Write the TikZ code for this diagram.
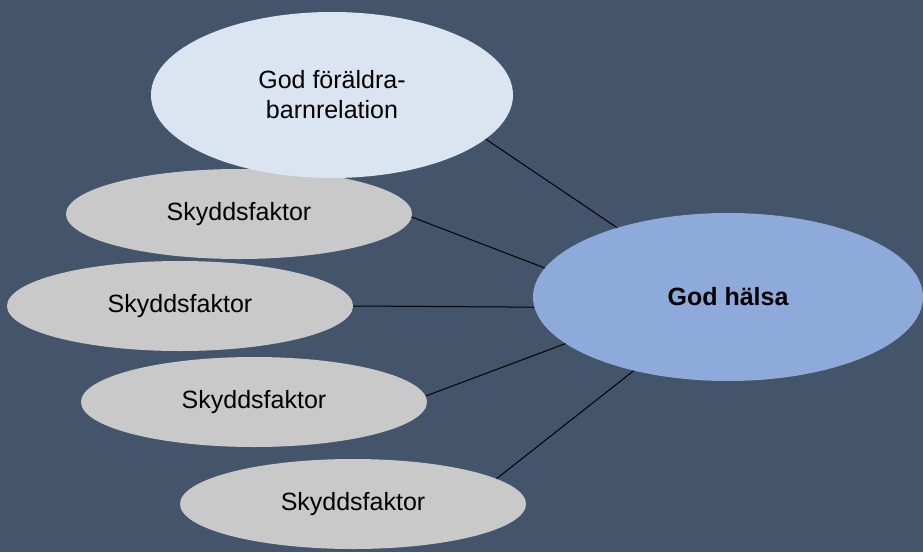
\documentclass[tikz,border=0pt]{standalone}
\usepackage{fontspec}
\setmainfont{Liberation Sans}
\usetikzlibrary{shapes.geometric}
\definecolor{slate}{HTML}{44546A}
\definecolor{parentblue}{HTML}{DBE5F1}
\definecolor{healthblue}{HTML}{8EAADB}
\definecolor{factorgray}{HTML}{C9C9C9}
\tikzset{
  oval/.style = {ellipse, inner sep = 0pt, align = center,
    font = \fontsize{25}{30}\selectfont},
  factor/.style = {oval, fill = factorgray,
    minimum width = 346pt, minimum height = 90pt},
  link/.style = {draw = black, line width = 1pt}
}
\def\drawfactor#1#2{%
  \node [factor] (#1) at (#2) {Skyddsfaktor};
}

\begin{document}
\begin{tikzpicture}[x = 1pt, y = -1pt]

  \useasboundingbox (0,0) rectangle (923,552);
  \fill [slate] (0,0) rectangle (923,552);

  \drawfactor{factor_a}{239,214}
  \drawfactor{factor_b}{180,306}
  \drawfactor{factor_c}{254,402}
  \drawfactor{factor_d}{353,504}

  \node [oval, fill = parentblue, minimum width = 362pt, minimum height = 166pt]
    (parent) at (332,95) {God föräldra-\\barnrelation};
  \node [oval, fill = healthblue, minimum width = 390pt, minimum height = 168pt,
    font = \fontsize{25}{30}\selectfont\bfseries]
    (health) at (728,297) {God hälsa};

  \draw [link] (parent.-16) -- (health.148);
  \draw [link] (factor_a.-1) -- (health.171);
  \draw [link] (factor_b.east) -- (health.183);
  \draw [link] (factor_c.2) -- (health.196);
  \draw [link] (factor_d.10) -- (health.218);

\end{tikzpicture}
\end{document}
